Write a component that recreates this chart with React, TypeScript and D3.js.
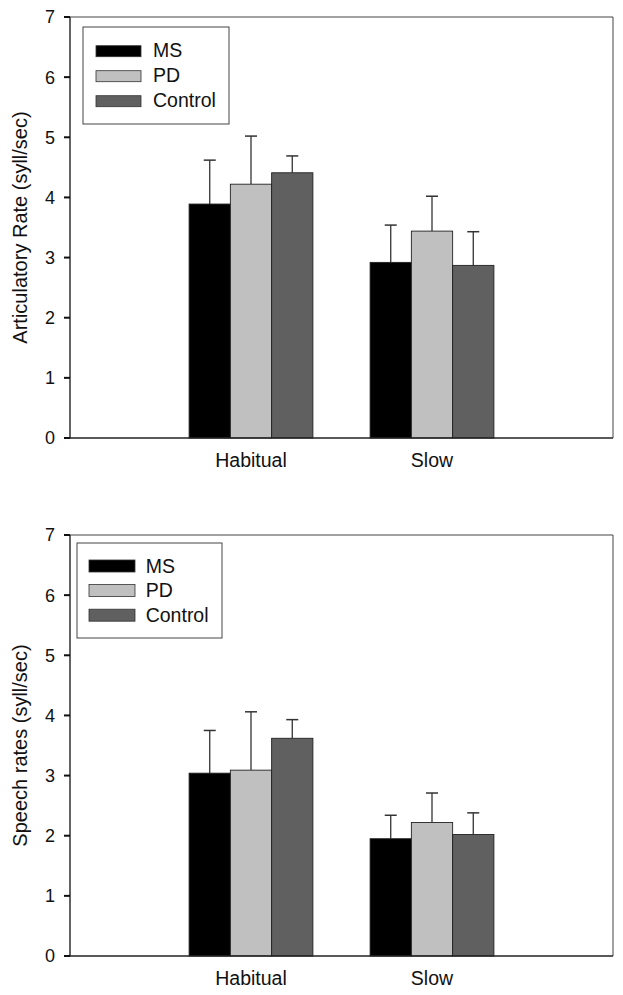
import React from "react";
import * as d3 from "d3";

const categories = ["Habitual", "Slow"];
const groups = ["MS", "PD", "Control"];
const groupColors = ["#000000", "#c0c0c0", "#606060"];
const yTicks = [0, 1, 2, 3, 4, 5, 6, 7];

// Articulatory rate (syll/sec): means and upper error (SD)
const artMS = [3.89, 2.92];
const artPD = [4.22, 3.44];
const artControl = [4.41, 2.87];
const artMSErr = [0.73, 0.62];
const artPDErr = [0.8, 0.58];
const artControlErr = [0.28, 0.56];

// Speech rates (syll/sec)
const spMS = [3.04, 1.95];
const spPD = [3.09, 2.22];
const spControl = [3.62, 2.02];
const spMSErr = [0.71, 0.39];
const spPDErr = [0.97, 0.49];
const spControlErr = [0.31, 0.36];

const FONT = "'Liberation Sans', Arial, sans-serif";

type PanelProps = {
  top: number;
  bottom: number;
  title: string;
  means: number[][];
  errs: number[][];
  legend: { x: number; y: number; w: number; h: number; sx: number; sw: number; sh: number; tx: number; row0: number; step: number };
};

function Panel({ top, bottom, title, means, errs, legend }: PanelProps) {
  const left = 70;
  const right = 613;
  const x = d3.scaleLinear().domain([0, 3]).range([left, right]);
  const y = d3.scaleLinear().domain([0, 7]).range([bottom, top]);
  const barW = 0.228;
  const capHalf = 6;

  return (
    <g>
      {categories.map((c, ci) =>
        groups.map((g, gi) => {
          const x0 = x(ci + 1 + (gi - 1.5) * barW);
          const x1 = x(ci + 1 + (gi - 0.5) * barW);
          const v = means[gi][ci];
          const e = errs[gi][ci];
          const cx = (x0 + x1) / 2;
          return (
            <g key={c + g}>
              <line x1={cx} x2={cx} y1={y(v)} y2={y(v + e)} stroke="#333" strokeWidth={1.3} />
              <line x1={cx - capHalf} x2={cx + capHalf} y1={y(v + e)} y2={y(v + e)} stroke="#333" strokeWidth={1.5} />
              <rect x={x0} y={y(v)} width={x1 - x0} height={y(0) - y(v)} fill={groupColors[gi]} stroke="#222" strokeWidth={0.9} />
            </g>
          );
        })
      )}
      <line x1={left} x2={right} y1={top} y2={top} stroke="#444" strokeWidth={1} />
      <line x1={right} x2={right} y1={top} y2={bottom} stroke="#444" strokeWidth={1} />
      <line x1={left} x2={left} y1={top} y2={bottom} stroke="#222" strokeWidth={1.4} />
      <line x1={left} x2={right} y1={bottom} y2={bottom} stroke="#222" strokeWidth={1.4} />
      {yTicks.map((t) => (
        <g key={t}>
          <line x1={left - 6} x2={left} y1={y(t)} y2={y(t)} stroke="#111" strokeWidth={2} />
          <text x={55} y={y(t)} dy="0.36em" textAnchor="end" fontSize={18} fontFamily={FONT} fill="#111">
            {t}
          </text>
        </g>
      ))}
      {categories.map((c, ci) => (
        <text key={c} x={x(ci + 1)} y={bottom + 28.5} textAnchor="middle" fontSize={19.5} fontFamily={FONT} fill="#111">
          {c}
        </text>
      ))}
      <text
        transform={`translate(27,${(top + bottom) / 2}) rotate(-90)`}
        textAnchor="middle"
        fontSize={20}
        fontFamily={FONT}
        fill="#111"
      >
        {title}
      </text>
      <rect x={legend.x} y={legend.y} width={legend.w} height={legend.h} fill="white" stroke="#444" strokeWidth={1} />
      {groups.map((g, gi) => {
        const ry = legend.row0 + gi * legend.step;
        return (
          <g key={g}>
            <rect x={legend.sx} y={ry} width={legend.sw} height={legend.sh} fill={groupColors[gi]} stroke="#333" strokeWidth={0.8} />
            <text x={legend.tx} y={ry + legend.sh + 0.5} fontSize={19.5} fontFamily={FONT} fill="#111">
              {g}
            </text>
          </g>
        );
      })}
    </g>
  );
}

export default function App() {
  return (
    <svg
      width={623}
      height={995}
      style={{ position: "absolute", left: 0, top: 0, background: "white" }}
    >
      <rect width={623} height={995} fill="white" />
      <Panel
        top={17}
        bottom={438}
        title="Articulatory Rate (syll/sec)"
        means={[artMS, artPD, artControl]}
        errs={[artMSErr, artPDErr, artControlErr]}
        legend={{ x: 83, y: 27, w: 146, h: 97, sx: 96, sw: 45, sh: 11, tx: 153, row0: 45.7, step: 25 }}
      />
      <Panel
        top={535}
        bottom={956}
        title="Speech rates (syll/sec)"
        means={[spMS, spPD, spControl]}
        errs={[spMSErr, spPDErr, spControlErr]}
        legend={{ x: 77, y: 543, w: 145, h: 95, sx: 89, sw: 46, sh: 12, tx: 145.7, row0: 560, step: 24.6 }}
      />
    </svg>
  );
}
